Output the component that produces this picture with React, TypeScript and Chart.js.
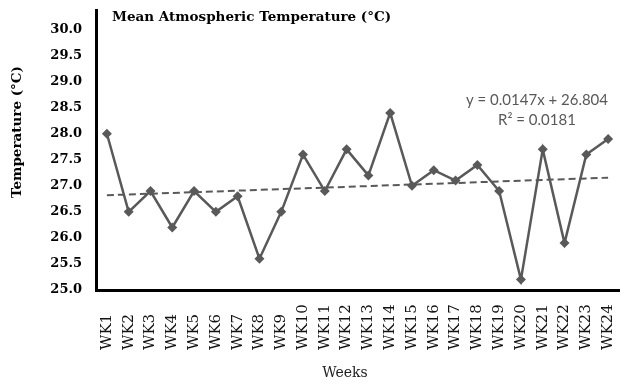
import React, { useEffect, useRef } from "react";
import { Chart, registerables } from "chart.js";

Chart.register(...registerables);

const weeks = [
  "WK1", "WK2", "WK3", "WK4", "WK5", "WK6", "WK7", "WK8", "WK9", "WK10", "WK11", "WK12",
  "WK13", "WK14", "WK15", "WK16", "WK17", "WK18", "WK19", "WK20", "WK21", "WK22", "WK23", "WK24",
];
const temperatures = [
  28.0, 26.5, 26.9, 26.2, 26.9, 26.5, 26.8, 25.6, 26.5, 27.6, 26.9, 27.7,
  27.2, 28.4, 27.0, 27.3, 27.1, 27.4, 26.9, 25.2, 27.7, 25.9, 27.6, 27.9,
];
const trendSlope = 0.0147;
const trendIntercept = 26.804;
const rSquared = 0.0181;
const yTicks = [25.0, 25.5, 26.0, 26.5, 27.0, 27.5, 28.0, 28.5, 29.0, 29.5, 30.0];

const chartTitle = "Mean Atmospheric Temperature (°C)";
const yTitle = "Temperature (°C)";
const xTitle = "Weeks";

const trendValues = weeks.map((_, i) => trendIntercept + trendSlope * (i + 1));

const SERIES_COLOR = "#595959";

const textPlugin = {
  id: "textPlugin",
  afterDraw(chart: any) {
    const ctx = chart.ctx as CanvasRenderingContext2D;
    const area = chart.chartArea;
    const xs = chart.scales.x;
    ctx.save();
    // chart title
    ctx.fillStyle = "#000";
    ctx.font = "bold 13.5px 'DejaVu Serif'";
    ctx.textAlign = "left";
    ctx.textBaseline = "middle";
    ctx.fillText(chartTitle, area.left + 16, 17);

    // y-axis title
    ctx.save();
    ctx.translate(17, 132);
    ctx.rotate(-Math.PI / 2);
    ctx.textAlign = "center";
    ctx.textBaseline = "middle";
    ctx.font = "bold 13.5px 'DejaVu Serif'";
    ctx.fillText(yTitle, 0, 0);
    ctx.restore();

    // x tick labels
    ctx.font = "15px 'DejaVu Serif'";
    ctx.fillStyle = "#111";
    weeks.forEach((w, i) => {
      const x = xs.getPixelForTick(i);
      ctx.save();
      ctx.translate(x, 350);
      ctx.rotate(-Math.PI / 2);
      ctx.textAlign = "left";
      ctx.textBaseline = "middle";
      ctx.fillText(w, 0, 0);
      ctx.restore();
    });

    // x title
    ctx.font = "14px 'DejaVu Serif'";
    ctx.fillStyle = "#222";
    ctx.textAlign = "center";
    ctx.textBaseline = "middle";
    ctx.fillText(xTitle, 345, 373);

    // trendline equation
    ctx.font = "15px Lato";
    ctx.fillStyle = SERIES_COLOR;
    ctx.fillText(`y = ${trendSlope.toFixed(4)}x + ${trendIntercept.toFixed(3)}`, 537, 100);
    ctx.fillText(`R² = ${rSquared.toFixed(4)}`, 537, 120);
    ctx.restore();
  },
};

export default function App() {
  const canvasRef = useRef<HTMLCanvasElement | null>(null);

  useEffect(() => {
    if (!canvasRef.current) return;
    const chart = new Chart(canvasRef.current, {
      type: "line",
      data: {
        labels: weeks,
        datasets: [
          {
            label: "Temperature",
            data: temperatures,
            borderColor: SERIES_COLOR,
            backgroundColor: SERIES_COLOR,
            borderWidth: 2.5,
            pointStyle: "rectRot",
            pointRadius: 5,
            pointBorderWidth: 0,
            tension: 0,
          },
          {
            label: "Trend",
            data: trendValues,
            borderColor: SERIES_COLOR,
            borderWidth: 2,
            borderDash: [7, 4],
            pointRadius: 0,
            tension: 0,
          },
        ],
      },
      options: {
        responsive: false,
        animation: false,
        devicePixelRatio: 1,
        layout: { padding: { top: 10, left: 0, right: 0, bottom: 0 } },
        plugins: {
          legend: { display: false },
          tooltip: { enabled: false },
          title: { display: false },
        },
        scales: {
          x: {
            type: "category",
            offset: true,
            grid: { display: false, drawTicks: false, tickLength: 0 },
            border: { display: true, color: "#000", width: 3 },
            ticks: { display: false },
            afterFit: (s: any) => {
              s.height = 97;
              s.paddingLeft = 0;
              s.paddingRight = 0;
            },
          },
          y: {
            min: 25,
            max: 30.375,
            grid: { display: false, drawTicks: false, tickLength: 0 },
            border: { display: true, color: "#000", width: 3 },
            afterBuildTicks: (s: any) => {
              s.ticks = yTicks.map((v) => ({ value: v }));
            },
            ticks: {
              padding: 14,
              color: "#000",
              font: { family: "'DejaVu Serif'", size: 13, weight: "bold" },
              callback: (v: any) => Number(v).toFixed(1),
            },
            afterFit: (s: any) => {
              s.width = 96;
              s.paddingTop = 0;
              s.paddingBottom = 0;
            },
          },
        },
      },
      plugins: [textPlugin],
    });
    return () => chart.destroy();
  }, []);

  return (
    <div style={{ position: "absolute", left: 0, top: 0, width: 624, height: 387, background: "#fff" }}>
      <canvas ref={canvasRef} width={624} height={387} />
    </div>
  );
}
